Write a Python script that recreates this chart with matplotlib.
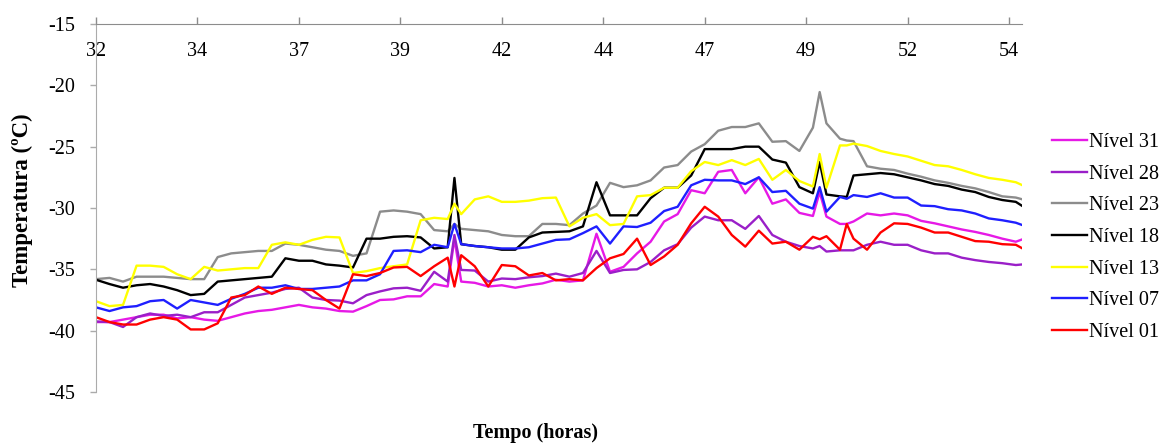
"""
Temperatura por nível - Tempo (horas)
"""

import numpy as np
import matplotlib
matplotlib.use('Agg')
import matplotlib.pyplot as plt

plt.rcParams['font.family'] = ['Liberation Serif', 'DejaVu Serif']

# Horas: passo de 20 min + alguns pontos intermédios (picos) + fim da série
hours = np.sort(np.concatenate([32 + np.arange(69) / 3.0,
                                [40.833, 49.833, 50.5, 54.833]]))

nivel_31 = [-39.3, -39.3, -39.1, -38.9, -38.7, -38.7, -39.0, -38.9, -39.1, -39.2,
            -38.9, -38.6, -38.4, -38.3, -38.1, -37.9, -38.1, -38.2, -38.4, -38.45,
            -38.0, -37.5, -37.45, -37.2, -37.2, -36.2, -36.4, -32.5, -36.0, -36.1,
            -36.4, -36.3, -36.5, -36.3, -36.15, -35.85, -36.0, -35.9, -32.1, -35.2,
            -34.8, -33.7, -32.75, -31.1, -30.5, -28.55, -28.8, -27.05, -26.9, -28.8,
            -27.5, -29.65, -29.3, -30.4, -30.65, -28.7, -30.7, -31.3, -31.3, -31.1,
            -30.45, -30.6, -30.45, -30.6, -31.05, -31.25, -31.5, -31.75, -31.95, -32.2,
            -32.5, -32.75, -32.55]

nivel_28 = [-39.25, -39.3, -39.7, -38.9, -38.6, -38.8, -38.7, -38.9, -38.5, -38.5,
            -37.9, -37.3, -37.1, -36.9, -36.6, -36.5, -37.3, -37.5, -37.55, -37.77,
            -37.1, -36.8, -36.55, -36.5, -36.75, -35.2, -36.0, -32.2, -35.05, -35.1,
            -36.0, -35.75, -35.8, -35.65, -35.55, -35.35, -35.6, -35.3, -33.5, -35.3,
            -35.05, -35.0, -34.4, -33.45, -32.95, -31.6, -30.7, -31.0, -31.0, -31.7,
            -30.65, -32.2, -32.75, -33.1, -33.3, -33.1, -33.55, -33.45, -33.45, -33.45,
            -33.0, -32.75, -33.0, -33.0, -33.45, -33.7, -33.7, -34.05, -34.25, -34.4,
            -34.5, -34.65, -34.6]

nivel_23 = [-35.8, -35.7, -36.0, -35.6, -35.6, -35.6, -35.7, -35.8, -35.8, -34.0,
            -33.7, -33.6, -33.5, -33.5, -32.9, -33.0, -33.2, -33.4, -33.5, -33.9,
            -33.7, -30.3, -30.2, -30.3, -30.5, -31.8, -31.9, -31.3, -31.7, -31.8,
            -31.9, -32.2, -32.3, -32.3, -31.3, -31.3, -31.4, -30.45, -29.8, -27.95,
            -28.3, -28.15, -27.75, -26.7, -26.5, -25.4, -24.8, -23.7, -23.4, -23.4,
            -23.1, -24.6, -24.55, -25.35, -23.45, -20.55, -23.1, -24.35, -24.5, -24.55,
            -26.6, -26.8, -26.9, -27.2, -27.45, -27.75, -27.95, -28.2, -28.4, -28.7,
            -29.05, -29.15, -29.3]

nivel_18 = [-35.85, -36.2, -36.5, -36.3, -36.2, -36.4, -36.7, -37.1, -37.0, -36.0,
            -35.9, -35.8, -35.7, -35.6, -34.1, -34.3, -34.3, -34.6, -34.7, -34.85,
            -32.5, -32.5, -32.35, -32.3, -32.4, -33.3, -33.2, -27.55, -32.95, -33.1,
            -33.2, -33.4, -33.4, -32.4, -32.0, -31.95, -31.9, -31.5, -27.9, -30.6,
            -30.6, -30.6, -29.2, -28.35, -28.35, -27.35, -25.2, -25.2, -25.2, -25.0,
            -25.0, -26.05, -26.3, -28.3, -28.8, -26.25, -28.9, -29.05, -29.1, -27.35,
            -27.25, -27.15, -27.25, -27.5, -27.75, -28.05, -28.2, -28.5, -28.7, -29.1,
            -29.35, -29.5, -29.85]

nivel_13 = [-37.6, -38.0, -37.9, -34.7, -34.7, -34.8, -35.4, -35.8, -34.8, -35.1,
            -35.0, -34.9, -34.9, -33.0, -32.8, -33.0, -32.6, -32.35, -32.4, -35.3,
            -35.15, -34.9, -34.75, -34.6, -31.0, -30.8, -30.9, -29.65, -30.5, -29.3,
            -29.05, -29.5, -29.5, -29.4, -29.2, -29.15, -31.5, -30.8, -30.5, -31.4,
            -31.3, -29.05, -28.95, -28.35, -28.35, -27.0, -26.25, -26.5, -26.1, -26.5,
            -26.0, -27.7, -26.9, -27.8, -28.25, -25.6, -28.35, -24.9, -24.9, -24.75,
            -24.95, -25.35, -25.6, -25.8, -26.15, -26.5, -26.6, -26.9, -27.25, -27.55,
            -27.7, -27.9, -28.15]

nivel_07 = [-38.1, -38.4, -38.1, -38.0, -37.6, -37.5, -38.2, -37.5, -37.7, -37.9,
            -37.4, -37.0, -36.5, -36.5, -36.3, -36.6, -36.6, -36.5, -36.4, -35.9,
            -35.9, -35.4, -33.5, -33.45, -33.6, -33.0, -33.2, -31.3, -32.95, -33.1,
            -33.2, -33.3, -33.3, -33.2, -32.9, -32.6, -32.55, -32.05, -31.5, -32.9,
            -31.5, -31.55, -31.2, -30.25, -29.9, -28.15, -27.7, -27.75, -27.75, -28.05,
            -27.5, -28.7, -28.6, -29.65, -30.05, -28.3, -30.3, -29.1, -29.25, -28.95,
            -29.1, -28.8, -29.15, -29.15, -29.8, -29.85, -30.1, -30.2, -30.45, -30.85,
            -31.0, -31.2, -31.4]

nivel_01 = [-38.9, -39.3, -39.5, -39.5, -39.1, -38.9, -39.1, -39.9, -39.9, -39.4,
            -37.3, -37.1, -36.4, -37.0, -36.5, -36.6, -36.7, -37.5, -38.2, -35.4,
            -35.55, -35.3, -34.85, -34.8, -35.55, -34.75, -34.05, -36.4, -33.85, -34.75,
            -36.4, -34.65, -34.75, -35.5, -35.3, -35.9, -35.8, -35.9, -34.9, -34.1,
            -33.75, -32.5, -34.65, -33.95, -33.0, -31.25, -29.9, -30.7, -32.2, -33.15,
            -31.85, -32.9, -32.75, -33.4, -32.35, -32.55, -32.3, -33.4, -31.3, -32.5,
            -33.4, -32.0, -31.25, -31.3, -31.6, -32.0, -32.0, -32.35, -32.7, -32.75,
            -32.95, -33.0, -33.3]

series_labels = ['Nível 31', 'Nível 28', 'Nível 23', 'Nível 18',
                 'Nível 13', 'Nível 07', 'Nível 01']
series_values = [nivel_31, nivel_28, nivel_23, nivel_18,
                 nivel_13, nivel_07, nivel_01]
series_colors = ['#E619E6', '#9A1FC8', '#8C8C8C', '#000000',
                 '#FFFF00', '#1F1FFF', '#FF0000']

tick_hours = [32, 34.5, 37, 39.5, 42, 44.5, 47, 49.5, 52, 54.5]
tick_labels = ['32', '34', '37', '39', '42', '44', '47', '49', '52', '54']
y_ticks = [-45, -40, -35, -30, -25, -20, -15]

fig = plt.figure(figsize=(11.72, 4.46), dpi=100, facecolor='white')
ax = fig.add_axes([0.0819, 0.1211, 0.7905, 0.8251])

for vals, lab, col in zip(series_values, series_labels, series_colors):
    ax.plot(hours, vals, color=col, linewidth=1.7, label=lab)

ax.set_xlim(32, 54.83)
ax.set_ylim(-45, -15)

# eixo do tempo desenhado em cima (linha em -15), rótulos por baixo
ax.spines['bottom'].set_position(('axes', 1.0))
ax.spines['top'].set_visible(False)
ax.spines['right'].set_visible(False)
ax.spines['bottom'].set_color('#8C8C8C')
ax.spines['left'].set_color('#ABABAB')

ax.set_xticks(tick_hours)
ax.set_xticklabels(tick_labels)
ax.set_yticks(y_ticks)
ax.set_yticklabels([str(v) for v in y_ticks])
ax.tick_params(axis='x', direction='in', length=5, width=1, color='#8C8C8C',
               pad=13, labelsize=14.5, colors='#8C8C8C', labelcolor='black')
ax.tick_params(axis='y', direction='out', length=4.5, width=1, color='#ABABAB',
               pad=10.5, labelsize=14.5, colors='#ABABAB', labelcolor='black')

fig.text(0.019, 0.5516, 'Temperatura (ºC)', rotation=90, ha='center',
         va='center', fontsize=16.5, fontweight='bold')
fig.text(0.4573, 0.029, 'Tempo (horas)', ha='center', va='center',
         fontsize=14.5, fontweight='bold')

fig.legend(loc='center left', bbox_to_anchor=(1052 / 1172, 1 - 237.5 / 446),
           frameon=False, handlelength=1.75, handletextpad=0.1,
           labelspacing=0.62, borderpad=0, borderaxespad=0,
           prop={'size': 14.5})

fig.savefig('out.png', dpi=100, facecolor='white')
